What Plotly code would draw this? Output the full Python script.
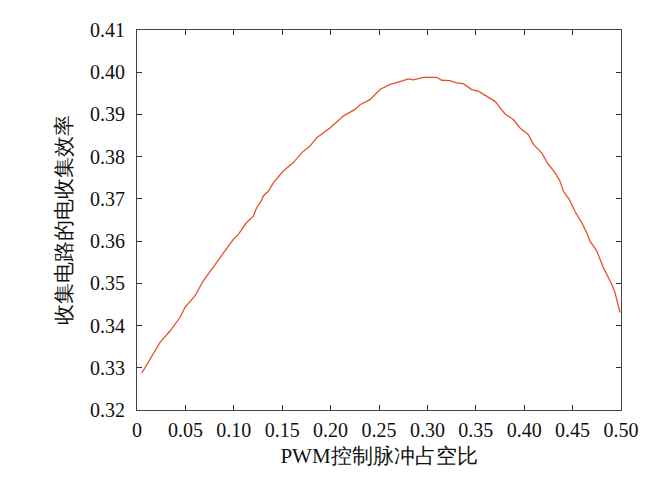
import plotly.graph_objects as go

duty = [0.0048, 0.0134, 0.0238, 0.0341, 0.0444, 0.0496, 0.0599, 0.0685, 0.0771, 0.0840,
        0.0926, 0.0995, 0.1047, 0.1133, 0.1202, 0.1236, 0.1288, 0.1305, 0.1357, 0.1408,
        0.1512, 0.1615, 0.1701, 0.1787, 0.1856, 0.1994, 0.2131, 0.2252, 0.2304, 0.2407,
        0.2510, 0.2614, 0.2717, 0.2803, 0.2855, 0.2958, 0.3096, 0.3148, 0.3233, 0.3302,
        0.3371, 0.3457, 0.3526, 0.3612, 0.3698, 0.3750, 0.3802, 0.3888, 0.3957, 0.4043,
        0.4095, 0.4181, 0.4249, 0.4318, 0.4370, 0.4405, 0.4465, 0.4525, 0.4594, 0.4646,
        0.4680, 0.4749, 0.4783, 0.4818, 0.4869, 0.4904, 0.4938, 0.4962, 0.4990]
efficiency = [0.3287, 0.3321, 0.3360, 0.3387, 0.3419, 0.3443, 0.3470, 0.3506, 0.3533, 0.3553,
              0.3581, 0.3604, 0.3616, 0.3644, 0.3659, 0.3679, 0.3697, 0.3707, 0.3718, 0.3738,
              0.3766, 0.3786, 0.3809, 0.3825, 0.3845, 0.3868, 0.3896, 0.3912, 0.3923, 0.3935,
              0.3959, 0.3971, 0.3978, 0.3984, 0.3982, 0.3988, 0.3988, 0.3981, 0.3980, 0.3975,
              0.3973, 0.3959, 0.3955, 0.3942, 0.3931, 0.3916, 0.3901, 0.3888, 0.3868, 0.3852,
              0.3829, 0.3809, 0.3782, 0.3762, 0.3742, 0.3718, 0.3699, 0.3670, 0.3644, 0.3620,
              0.3600, 0.3577, 0.3557, 0.3537, 0.3514, 0.3498, 0.3478, 0.3455, 0.3431]

x_ticks = [0, 0.05, 0.10, 0.15, 0.20, 0.25, 0.30, 0.35, 0.40, 0.45, 0.50]
x_labels = ["0", "0.05", "0.10", "0.15", "0.20", "0.25", "0.30", "0.35", "0.40", "0.45", "0.50"]
y_ticks = [0.32, 0.33, 0.34, 0.35, 0.36, 0.37, 0.38, 0.39, 0.40, 0.41]
y_labels = ["0.32", "0.33", "0.34", "0.35", "0.36", "0.37", "0.38", "0.39", "0.40", "0.41"]

font_family = "Liberation Serif"

fig = go.Figure()
fig.add_trace(go.Scatter(x=duty, y=efficiency, mode="lines",
                         line=dict(color="#e8502a", width=1.3), showlegend=False))

axis_common = dict(showgrid=False, zeroline=False, showline=True, linecolor="#444444",
                   linewidth=1, mirror="ticks", ticks="inside", ticklen=5,
                   tickcolor="#333333", tickfont=dict(family=font_family, size=20, color="#111111"))

fig.update_xaxes(range=[0, 0.5], tickvals=x_ticks, ticktext=x_labels, ticklabelstandoff=2,
                 title=dict(text="PWM控制脉冲占空比", font=dict(family=font_family, size=21, color="#111111"),
                            standoff=8), **axis_common)
fig.update_yaxes(range=[0.32, 0.41], tickvals=y_ticks, ticktext=y_labels, ticklabelstandoff=7,
                 title=dict(text="收集电路的电收集效率", font=dict(family=font_family, size=21, color="#111111"),
                            standoff=12), **axis_common)

fig.update_layout(width=664, height=482, margin=dict(l=129, r=51, t=22, b=80),
                  plot_bgcolor="white", paper_bgcolor="white")

fig.write_html("out.html")
